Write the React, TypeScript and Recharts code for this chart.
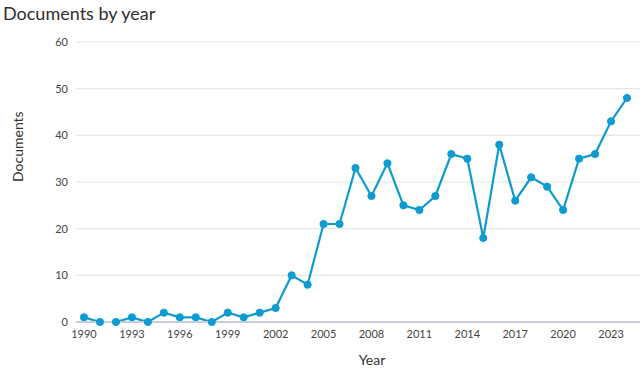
import React from 'react';
import { LineChart, Line, XAxis, YAxis, CartesianGrid } from 'recharts';

const years = [1990,1991,1992,1993,1994,1995,1996,1997,1998,1999,2000,2001,2002,2003,2004,2005,2006,2007,2008,2009,2010,2011,2012,2013,2014,2015,2016,2017,2018,2019,2020,2021,2022,2023,2024];
const documents = [1,0,0,1,0,2,1,1,0,2,1,2,3,10,8,21,21,33,27,34,25,24,27,36,35,18,38,26,31,29,24,35,36,43,48];
const xTicks = [1990,1993,1996,1999,2002,2005,2008,2011,2014,2017,2020,2023];
const yTicks = [0,10,20,30,40,50,60];

const data = years.map((y, i) => ({ year: y, docs: documents[i] }));

const FONT = 'Lato, "Open Sans", sans-serif';

export default function App() {
  return (
    <div style={{ position: 'absolute', left: 0, top: 0, width: 643, height: 371, background: '#fff', fontFamily: FONT }}>
      <div style={{ position: 'absolute', left: 3, top: 2, fontSize: 18, lineHeight: '22px', color: '#2e2e2e', fontFamily: FONT }}>
        Documents by year
      </div>
      <LineChart width={643} height={371} data={data} margin={{ top: 42, right: 3, bottom: 0, left: 0 }}>
        <CartesianGrid vertical={false} stroke="#e6e6e6" strokeWidth={1.2} />
        <XAxis
          dataKey="year"
          type="number"
          domain={[1990, 2024]}
          ticks={xTicks}
          height={49}
          padding={{ left: 8, right: 13 }}
          tickLine={false}
          axisLine={{ stroke: '#c9cdd9', strokeWidth: 2 }}
          tick={{ fontSize: 11, fill: '#444', fontFamily: FONT }}
          label={{ value: 'Year', position: 'insideBottom', offset: 6, dx: 14, fontSize: 14, fill: '#333', fontFamily: FONT }}
        />
        <YAxis
          type="number"
          domain={[0, 60]}
          ticks={yTicks}
          width={76}
          tickLine={false}
          axisLine={false}
          tick={{ fontSize: 11, fill: '#444', fontFamily: FONT }}
          label={{ value: 'Documents', angle: -90, position: 'insideLeft', offset: 18, fontSize: 14, fill: '#333', fontFamily: FONT }}
        />
        <Line
          type="linear"
          dataKey="docs"
          stroke="#0e9bcf"
          strokeWidth={2.2}
          dot={{ r: 3.6, fill: '#0e9bcf', stroke: '#0e9bcf', strokeWidth: 1 }}
          isAnimationActive={false}
        />
      </LineChart>
    </div>
  );
}
